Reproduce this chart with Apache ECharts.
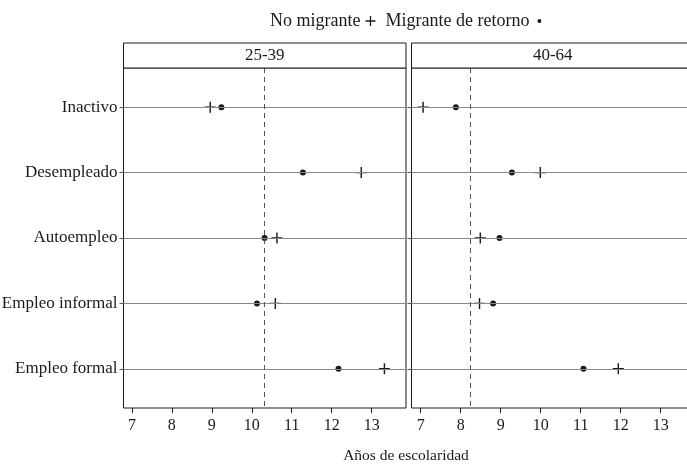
<!DOCTYPE html>
<html><head><meta charset="utf-8">
<script src="https://cdn.jsdelivr.net/npm/echarts@6/dist/echarts.min.js"></script>
<style>html,body{margin:0;padding:0;background:#fff}#c{width:687px;height:471px}</style>
</head><body><div id="c"></div>
<script>
const categories = ['Inactivo','Desempleado','Autoempleo','Empleo informal','Empleo formal'];
const panels = ['25-39','40-64'];
const noMigrante1 = [8.96, 12.74, 10.63, 10.59, 13.32];
const retorno1 = [9.24, 11.28, 10.32, 10.13, 12.17];
const noMigrante2 = [7.06, 9.99, 8.49, 8.47, 11.94];
const retorno2 = [7.88, 9.28, 8.97, 8.81, 11.07];
const meanLine = [10.32, 8.24];
const xTicks = [7, 8, 9, 10, 11, 12, 13];
const xTitle = 'Años de escolaridad';
const seriesNames = ['No migrante', 'Migrante de retorno'];

const FONT = '"Liberation Serif", "DejaVu Serif", serif';
const INK = '#1a1a1a';
const PLUS = 'path://M4.35,0h1.3v10h-1.3zM0,4.35h10v1.3h-10z';
const DOT_ICON = 'path://M0,0h0.01v0.01zM10,10h-0.01v-0.01zM5,3a2,2 0 1,1 -0.01,0z';

const catY = categories.map((c, i) => i + 1);
const gridDefs = [
  {left: 123.5, top: 68, width: 282.5, height: 340},
  {left: 411.5, top: 68, width: 282, height: 340}
];
const xRanges = [[6.79, 13.86], [6.77, 13.82]];
const chart = echarts.init(document.getElementById('c'));

const grids = gridDefs.map(g => Object.assign({show: true, borderColor: INK, borderWidth: 1, backgroundColor: '#fff', outerBoundsMode: 'none', containLabel: false}, g));
const xAxes = gridDefs.map((g, i) => ({
  type: 'value', gridIndex: i, min: xRanges[i][0], max: xRanges[i][1],
  axisLine: {show: false},
  splitLine: {show: false},
  axisTick: {show: true, length: 5, lineStyle: {color: INK, width: 1}, customValues: xTicks},
  axisLabel: {customValues: xTicks, fontFamily: FONT, fontSize: 16, color: INK, margin: 10},
}));
const yAxes = gridDefs.map((g, i) => ({
  type: 'value', gridIndex: i, min: 0.4, max: 5.6, inverse: true,
  axisLine: {show: false},
  splitLine: {show: false},
  axisTick: {show: true, length: 4, lineStyle: {color: '#555', width: 1}, customValues: catY},
  axisLabel: {show: i === 0, customValues: catY, fontFamily: FONT, fontSize: 17, color: INK, margin: 6,
    formatter: v => categories[Math.round(v) - 1] || ''}
}));

const series = [];
const dataSets = [[noMigrante1, retorno1], [noMigrante2, retorno2]];
dataSets.forEach((ds, p) => {
  series.push({
    type: 'line', xAxisIndex: p, yAxisIndex: p, data: [], z: 1, silent: true,
    markLine: {
      symbol: 'none', silent: true, animation: false, label: {show: false},
      data: catY.map(y => ({yAxis: y, lineStyle: {color: '#888', width: 1, type: 'solid'}}))
        .concat([{xAxis: meanLine[p], lineStyle: {color: '#555', width: 1, type: [5, 4]}}])
    }
  });
  series.push({
    name: seriesNames[0], type: 'scatter', xAxisIndex: p, yAxisIndex: p, z: 3,
    symbol: PLUS, symbolSize: 11, itemStyle: {color: INK, opacity: 1},
    data: ds[0].map((v, i) => [v, catY[i]])
  });
  series.push({
    name: seriesNames[1], type: 'scatter', xAxisIndex: p, yAxisIndex: p, z: 4,
    symbol: 'circle', symbolSize: 6, itemStyle: {color: INK, opacity: 1},
    data: ds[1].map((v, i) => [v, catY[i]])
  });
});

const graphic = [];
gridDefs.forEach((g, i) => {
  graphic.push({type: 'rect', shape: {x: g.left, y: 43, width: g.width, height: 25},
    style: {fill: '#fff', stroke: INK, lineWidth: 1}, z: 10});
  graphic.push({type: 'text', x: g.left + 282.5 / 2, y: 56, z: 11,
    style: {text: panels[i], font: '17px ' + FONT, fill: INK, textAlign: 'center', textVerticalAlign: 'middle'}});
});
graphic.push({type: 'text', x: 406, y: 456, z: 11,
  style: {text: xTitle, font: '15.5px ' + FONT, fill: INK, textAlign: 'center', textVerticalAlign: 'middle'}});

chart.setOption({
  animation: false,
  backgroundColor: '#fff',
  legend: {
    left: 265, top: 7, align: 'right', itemGap: 10, itemWidth: 10, itemHeight: 10,
    textStyle: {fontFamily: FONT, fontSize: 18, color: INK},
    data: [
      {name: seriesNames[0], icon: PLUS},
      {name: seriesNames[1], icon: DOT_ICON}
    ],
    selectedMode: false
  },
  grid: grids, xAxis: xAxes, yAxis: yAxes, series, graphic
});
</script></body></html>
